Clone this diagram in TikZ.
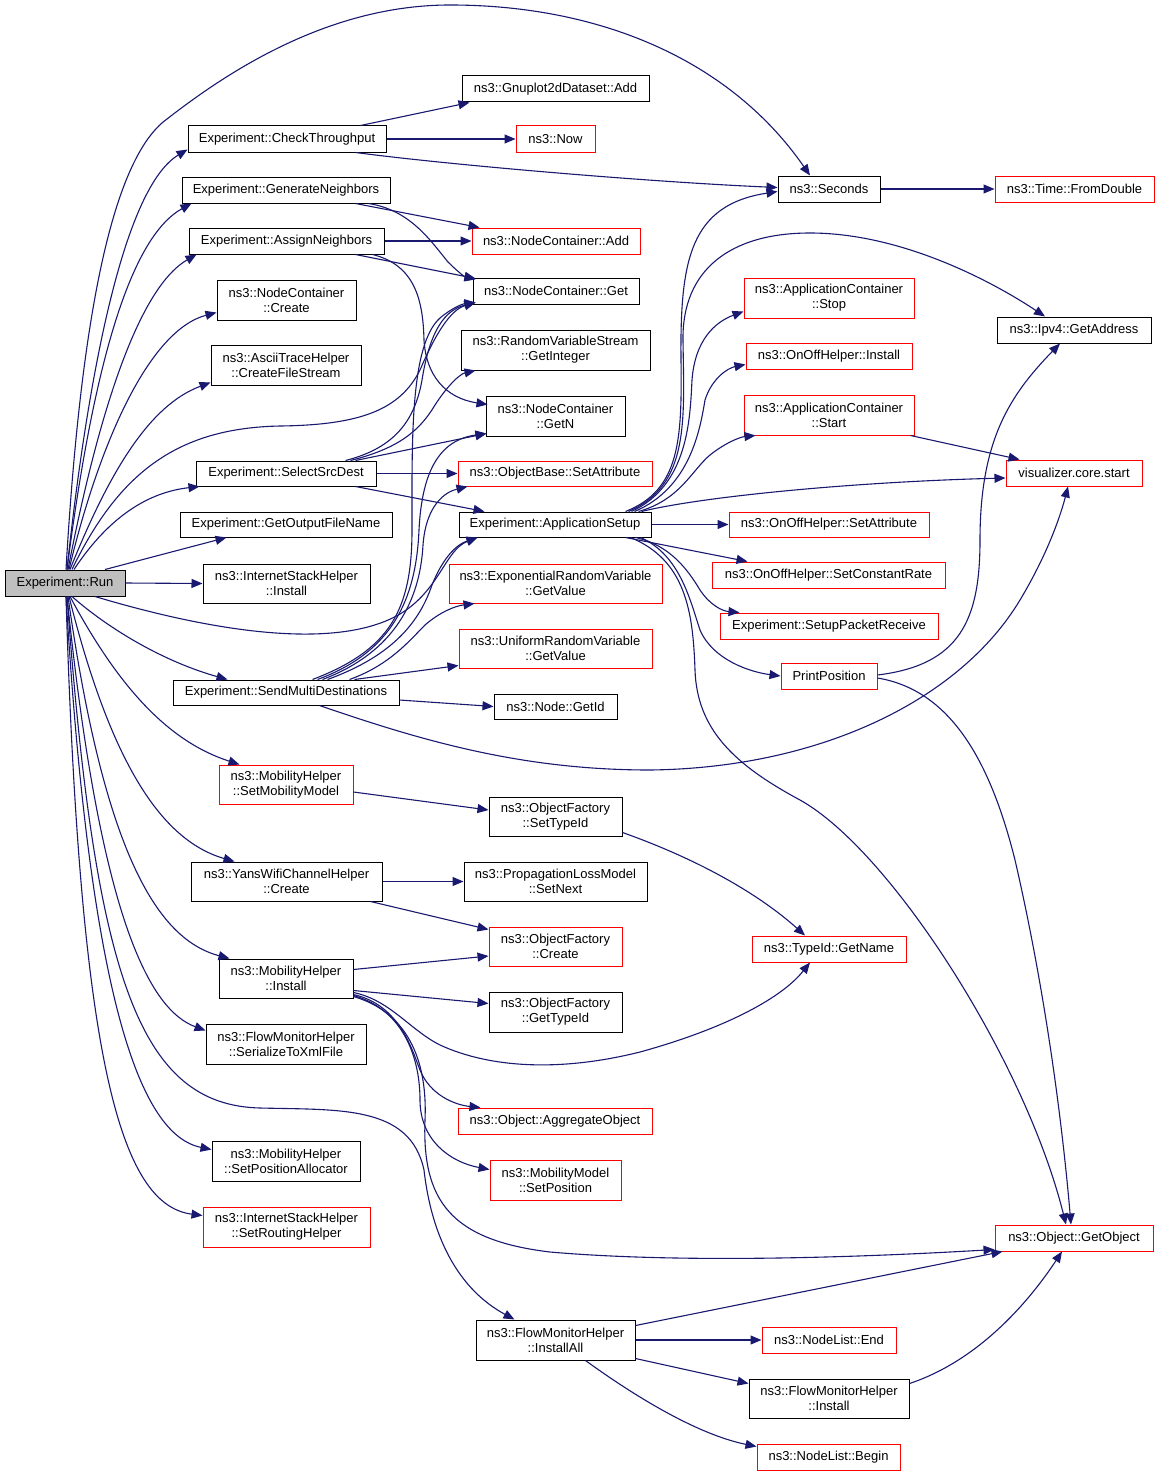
\documentclass[tikz,border=0pt]{standalone}
\usepackage{fontspec}
\setmainfont{Liberation Sans}
\usetikzlibrary{arrows.meta}
\definecolor{edgec}{RGB}{25,25,112}
\definecolor{runfill}{RGB}{191,191,191}
\newcommand\dfnt{\fontsize{13}{15}\selectfont}
\newcommand\mknode[7]{\node[#1, minimum width=#5pt, minimum height=#6pt] (#2) at (#3,#4) {#7};}
\begin{document}
\begin{tikzpicture}[x=1pt,y=-1pt,
  box/.style={draw=black,line width=1pt,fill=white,inner sep=0pt,align=center,font=\dfnt},
  rbox/.style={box,draw=red},
  e/.style={draw=edgec,line width=1.1pt,-{Triangle[length=11pt,width=9pt]}}]
\useasboundingbox (0,0) rectangle (1160,1477);
\fill[white] (0,0) rectangle (1160,1477);
% nodes
\mknode{box,fill=runfill}{run}{65}{583}{120}{26}{Experiment::Run}
\mknode{box}{check}{287}{139}{198}{26}{Experiment::CheckThroughput}
\mknode{box}{gnuadd}{555.5}{89}{187}{26}{ns3::Gnuplot2dDataset::Add}
\mknode{rbox}{now}{555.5}{139}{79}{26}{ns3::Now}
\mknode{box}{seconds}{829}{189}{102}{26}{ns3::Seconds}
\mknode{rbox}{fromdouble}{1074.5}{189}{159}{26}{ns3::Time::FromDouble}
\mknode{box}{genn}{286}{190}{208}{26}{Experiment::GenerateNeighbors}
\mknode{box}{assn}{286.5}{241}{195}{26}{Experiment::AssignNeighbors}
\mknode{rbox}{ncadd}{556}{241}{168}{26}{ns3::NodeContainer::Add}
\mknode{box}{ncget}{556}{291}{166}{26}{ns3::NodeContainer::Get}
\mknode{box}{nccreate}{286.5}{300}{139}{40}{ns3::NodeContainer\\::Create}
\mknode{box}{ascii}{286}{365}{150}{40}{ns3::AsciiTraceHelper\\::CreateFileStream}
\mknode{box}{getint}{555.5}{350}{189}{40}{ns3::RandomVariableStream\\::GetInteger}
\mknode{box}{getn}{555.5}{416}{139}{40}{ns3::NodeContainer\\::GetN}
\mknode{box}{select}{286}{473.5}{180}{25}{Experiment::SelectSrcDest}
\mknode{rbox}{setattr}{555}{473.5}{194}{25}{ns3::ObjectBase::SetAttribute}
\mknode{box}{getout}{286}{524.5}{212}{25}{Experiment::GetOutputFileName}
\mknode{box}{appsetup}{555}{524.5}{192}{25}{Experiment::ApplicationSetup}
\mknode{box}{ishinst}{286.5}{583.5}{167}{39}{ns3::InternetStackHelper\\::Install}
\mknode{rbox}{exprv}{555.5}{583.5}{213}{39}{ns3::ExponentialRandomVariable\\::GetValue}
\mknode{rbox}{unirv}{555.5}{648.5}{193}{39}{ns3::UniformRandomVariable\\::GetValue}
\mknode{box}{sendmulti}{286}{692.5}{226}{25}{Experiment::SendMultiDestinations}
\mknode{box}{getid}{555.5}{706.5}{123}{25}{ns3::Node::GetId}
\mknode{rbox}{setmob}{286}{784.5}{134}{39}{ns3::MobilityHelper\\::SetMobilityModel}
\mknode{box}{settypeid}{555.5}{816.5}{133}{39}{ns3::ObjectFactory\\::SetTypeId}
\mknode{box}{yans}{286.5}{881.5}{191}{39}{ns3::YansWifiChannelHelper\\::Create}
\mknode{box}{proploss}{555.5}{881.5}{183}{39}{ns3::PropagationLossModel\\::SetNext}
\mknode{rbox}{ofcreate}{555.5}{946.5}{133}{39}{ns3::ObjectFactory\\::Create}
\mknode{box}{mobinst}{286}{978.5}{134}{39}{ns3::MobilityHelper\\::Install}
\mknode{box}{gettypeid}{555.5}{1012}{133}{40}{ns3::ObjectFactory\\::GetTypeId}
\mknode{box}{serial}{286}{1044}{160}{40}{ns3::FlowMonitorHelper\\::SerializeToXmlFile}
\mknode{rbox}{aggr}{555}{1121}{194}{26}{ns3::Object::AggregateObject}
\mknode{box}{setposalloc}{286}{1161}{148}{40}{ns3::MobilityHelper\\::SetPositionAllocator}
\mknode{rbox}{mmsetpos}{555.5}{1180}{131}{40}{ns3::MobilityModel\\::SetPosition}
\mknode{rbox}{routing}{286.5}{1227}{167}{40}{ns3::InternetStackHelper\\::SetRoutingHelper}
\mknode{box}{flowall}{555.5}{1340}{159}{40}{ns3::FlowMonitorHelper\\::InstallAll}
\mknode{rbox}{appstop}{829}{298}{170}{40}{ns3::ApplicationContainer\\::Stop}
\mknode{rbox}{onoffinst}{829}{356}{166}{26}{ns3::OnOffHelper::Install}
\mknode{rbox}{appstart}{829}{415}{170}{40}{ns3::ApplicationContainer\\::Start}
\mknode{rbox}{onoffattr}{829}{524.5}{200}{25}{ns3::OnOffHelper::SetAttribute}
\mknode{rbox}{constrate}{828.5}{575}{233}{26}{ns3::OnOffHelper::SetConstantRate}
\mknode{rbox}{setuprecv}{829}{626}{218}{26}{Experiment::SetupPacketReceive}
\mknode{rbox}{printpos}{829}{676}{96}{26}{PrintPosition}
\mknode{rbox}{getname}{829}{949}{154}{26}{ns3::TypeId::GetName}
\mknode{rbox}{nlend}{829}{1340}{134}{26}{ns3::NodeList::End}
\mknode{box}{fminst}{829}{1398.5}{160}{39}{ns3::FlowMonitorHelper\\::Install}
\mknode{rbox}{nlbegin}{828.5}{1457}{143}{26}{ns3::NodeList::Begin}
\mknode{box}{ipv4}{1074}{330}{154}{26}{ns3::Ipv4::GetAddress}
\mknode{rbox}{viz}{1074}{473}{136}{26}{visualizer.core.start}
\mknode{rbox}{getobj}{1074}{1238}{158}{26}{ns3::Object::GetObject}
% edges from Run
\draw[e] ([xshift=2pt]run.north) .. controls (85,400) and (120,190) .. ([yshift=3pt]check.south west);
\draw[e] ([xshift=1pt]run.north) .. controls (80,330) and (110,160) .. (167,119) .. controls (230,70) and (330,5) .. (450,5) .. controls (600,5) and (730,60) .. ([xshift=-19pt]seconds.north);
\draw[e] ([xshift=2pt]run.north) .. controls (90,390) and (125,240) .. ([xshift=10pt]genn.south west);
\draw[e] ([xshift=3pt]run.north) .. controls (95,430) and (135,290) .. ([xshift=8pt]assn.south west);
\draw[e] ([xshift=4pt]run.north) .. controls (100,440) and (150,330) .. ([yshift=8pt]nccreate.south west);
\draw[e] ([xshift=5pt]run.north) .. controls (110,470) and (150,405) .. ([yshift=3pt]ascii.south west);
\draw[e] ([xshift=7pt]run.north) .. controls (120,470) and (180,428) .. (280,426) .. controls (360,425) and (400,410) .. (420,370) .. controls (435,335) and (450,310) .. ([xshift=3pt,yshift=2pt]ncget.south west);
\draw[e] ([xshift=9pt]run.north) .. controls (110,515) and (150,492) .. ([xshift=4pt]select.south west);
\draw[e] ([xshift=40pt]run.north) -- ([xshift=47pt]getout.south west);
\draw[e] (run.east) -- (ishinst.west);
\draw[e] ([xshift=30pt]run.south) .. controls (190,625) and (330,655) .. (400,614) .. controls (440,590) and (445,550) .. ([xshift=19pt]appsetup.south west);
\draw[e] ([xshift=7pt]run.south) .. controls (110,630) and (165,662) .. ([xshift=55pt]sendmulti.north west);
\draw[e] ([xshift=5pt]run.south) .. controls (120,690) and (170,742) .. ([xshift=21pt]setmob.north west);
\draw[e] ([xshift=4pt]run.south) .. controls (110,760) and (160,840) .. ([xshift=44pt]yans.north west);
\draw[e] ([xshift=3pt]run.south) .. controls (105,860) and (160,940) .. ([xshift=11pt]mobinst.north west);
\draw[e] ([xshift=2pt]run.south) .. controls (100,920) and (150,1010) .. ([yshift=-7pt]serial.north west);
\draw[e] ([xshift=2pt]run.south) .. controls (95,980) and (140,1105) .. (260,1108) .. controls (340,1110) and (410,1105) .. (424,1170) .. controls (432,1240) and (460,1290) .. ([xshift=39pt]flowall.north west);
\draw[e] ([xshift=1pt]run.south) .. controls (90,1000) and (140,1135) .. ([yshift=-9pt]setposalloc.north west);
\draw[e] ([xshift=1pt]run.south) .. controls (80,1060) and (120,1205) .. ([yshift=-9pt]routing.north west);
% CheckThroughput
\draw[e] ([xshift=-26pt]check.north east) -- ([xshift=8pt]gnuadd.south west);
\draw[e] (check.east) -- (now.west);
\draw[e] ([xshift=-31pt]check.south east) .. controls (450,165) and (650,182) .. ([yshift=-12pt]seconds.north west);
\draw[e] (seconds.east) -- (fromdouble.west);
% GenerateNeighbors / AssignNeighbors
\draw[e] ([xshift=-35pt]genn.south east) -- ([xshift=8pt]ncadd.north west);
\draw[e] ([xshift=-22pt]genn.south east) .. controls (410,210) and (430,240) .. (448,262) .. controls (458,272) and (465,277) .. ([xshift=3pt,yshift=-2pt]ncget.north west);
\draw[e] (assn.east) -- (ncadd.west);
\draw[e] ([xshift=-29pt]assn.south east) -- ([xshift=3pt,yshift=-1pt]ncget.north west);
\draw[e] ([xshift=-12pt]assn.south east) .. controls (415,265) and (423,300) .. (424,340) .. controls (426,375) and (445,398) .. ([xshift=2pt,yshift=-9pt]getn.north west);
% SelectSrcDest
\draw[e] ([xshift=-31pt]select.north east) .. controls (395,448) and (415,420) .. (422,380) .. controls (430,330) and (445,310) .. ([xshift=3pt,yshift=2pt]ncget.south west);
\draw[e] ([xshift=-26pt]select.north east) .. controls (400,448) and (420,430) .. (435,405) .. controls (448,385) and (460,374) .. ([xshift=15pt]getint.south west);
\draw[e] ([xshift=-21pt]select.north east) -- ([xshift=1pt,yshift=3pt]getn.south west);
\draw[e] (select.east) -- (setattr.west);
\draw[e] ([xshift=-21pt]select.south east) -- ([xshift=26pt]appsetup.north west);
% SendMultiDestinations
\draw[e] ([xshift=140pt]sendmulti.north west) .. controls (390,650) and (412,610) .. (412,530) .. controls (412,440) and (410,345) .. (440,318) .. controls (452,308) and (462,304) .. ([xshift=3pt,yshift=2pt]ncget.south west);
\draw[e] ([xshift=145pt]sendmulti.north west) .. controls (392,652) and (416,600) .. (419,530) .. controls (422,470) and (440,440) .. ([xshift=1pt,yshift=3pt]getn.south west);
\draw[e] ([xshift=150pt]sendmulti.north west) .. controls (395,652) and (420,600) .. (423,545) .. controls (426,505) and (445,492) .. ([xshift=10pt]setattr.south west);
\draw[e] ([xshift=155pt]sendmulti.north west) .. controls (395,655) and (420,620) .. (432,585) .. controls (442,560) and (455,545) .. ([xshift=19pt]appsetup.south west);
\draw[e] ([xshift=177pt]sendmulti.north west) .. controls (390,665) and (410,640) .. (425,625) .. controls (440,612) and (455,606) .. ([xshift=26pt]exprv.south west);
\draw[e] ([xshift=182pt]sendmulti.north west) -- ([yshift=3pt]unirv.south west);
\draw[e] ([yshift=-7.5pt]sendmulti.east) -- (getid.west);
\draw[e] ([xshift=147pt]sendmulti.south west) .. controls (420,740) and (520,770) .. (650,770) .. controls (820,768) and (960,700) .. (1020,600) .. controls (1050,550) and (1062,510) .. ([xshift=-6pt]viz.south);
% ApplicationSetup
\draw[e] ([xshift=-26pt]appsetup.north east) .. controls (680,490) and (682,440) .. (681,360) .. controls (680,260) and (690,205) .. ([yshift=-16pt]seconds.north west);
\draw[e] ([xshift=-23pt]appsetup.north east) .. controls (690,485) and (684,420) .. (683,340) .. controls (682,270) and (730,233) .. (810,233) .. controls (900,233) and (990,280) .. ([xshift=-29pt]ipv4.north);
\draw[e] ([xshift=-20pt]appsetup.north east) .. controls (688,485) and (690,420) .. (692,380) .. controls (695,340) and (715,322) .. ([yshift=7pt]appstop.south west);
\draw[e] ([xshift=-17pt]appsetup.north east) .. controls (690,488) and (700,430) .. (705,400) .. controls (712,378) and (728,368) .. ([yshift=5pt]onoffinst.south west);
\draw[e] ([xshift=-13pt]appsetup.north east) .. controls (680,500) and (692,470) .. (710,455) .. controls (725,443) and (740,437) .. ([xshift=12pt]appstart.south west);
\draw[e] ([xshift=-10pt]appsetup.north east) .. controls (700,497) and (850,482) .. ([yshift=-5pt]viz.west);
\draw[e] (appsetup.east) -- (onoffattr.west);
\draw[e] ([xshift=-26pt]appsetup.south east) -- ([xshift=36pt]constrate.north west);
\draw[e] ([xshift=-16pt]appsetup.south east) .. controls (670,545) and (688,570) .. (700,590) .. controls (710,605) and (722,611) .. ([xshift=20pt]setuprecv.north west);
\draw[e] ([xshift=-11pt]appsetup.south east) .. controls (680,555) and (690,600) .. (700,630) .. controls (713,660) and (750,672) .. (printpos.west);
\draw[e] ([xshift=-21pt]appsetup.south east) .. controls (685,560) and (693,610) .. (695,670) .. controls (697,730) and (735,765) .. (800,800) .. controls (890,850) and (1025,1060) .. ([xshift=-8pt]getobj.north);
\draw[e] ([xshift=-4pt]appstart.south east) -- ([xshift=14pt]viz.north west);
% PrintPosition
\draw[e] ([yshift=1pt]printpos.east) .. controls (960,665) and (980,620) .. (980,540) .. controls (980,440) and (1010,395) .. ([xshift=-14pt]ipv4.south);
\draw[e] ([yshift=-2pt]printpos.east) .. controls (950,690) and (990,760) .. (1015,860) .. controls (1045,990) and (1062,1120) .. ([xshift=-3pt]getobj.north);
% Mobility / Yans
\draw[e] ([yshift=-7.5pt]setmob.east) -- ([yshift=6.5pt]settypeid.west);
\draw[e] ([yshift=4pt]settypeid.south east) .. controls (700,860) and (760,895) .. ([xshift=-24pt]getname.north);
\draw[e] (yans.east) -- (proploss.west);
\draw[e] ([xshift=-12pt]yans.south east) -- ([yshift=-3pt]ofcreate.north west);
\draw[e] ([yshift=-11pt]mobinst.north east) -- ([yshift=-9.5pt]ofcreate.west);
\draw[e] ([yshift=8pt]mobinst.south east) -- ([yshift=-12pt]gettypeid.north west);
\draw[e] ([yshift=6pt]mobinst.south east) .. controls (390,1000) and (410,1030) .. (440,1045) .. controls (490,1068) and (560,1072) .. (640,1052) .. controls (720,1030) and (780,1000) .. ([xshift=-19pt]getname.south);
\draw[e] ([yshift=4pt]mobinst.south east) .. controls (400,1005) and (412,1050) .. (420,1070) .. controls (430,1095) and (455,1105) .. ([xshift=23pt]aggr.north west);
\draw[e] ([yshift=3pt]mobinst.south east) .. controls (405,1010) and (420,1060) .. (420,1100) .. controls (420,1140) and (450,1162) .. ([yshift=-10pt]mmsetpos.north west);
\draw[e] ([yshift=2pt]mobinst.south east) .. controls (400,1010) and (428,1050) .. (425,1120) .. controls (422,1200) and (450,1240) .. (550,1252) .. controls (700,1265) and (900,1255) .. ([yshift=2pt]getobj.south west);
% FlowMonitor
\draw[e] ([yshift=-6pt]flowall.north east) -- ([xshift=8pt]getobj.south west);
\draw[e] (flowall.east) -- (nlend.west);
\draw[e] ([yshift=2pt]flowall.south east) -- ([yshift=-5pt]fminst.north west);
\draw[e] ([xshift=30pt]flowall.south) .. controls (640,1400) and (700,1435) .. ([yshift=-3pt]nlbegin.north west);
\draw[e] ([yshift=-5pt]fminst.north east) .. controls (980,1360) and (1030,1300) .. ([xshift=-12pt]getobj.south);
\end{tikzpicture}
\end{document}
